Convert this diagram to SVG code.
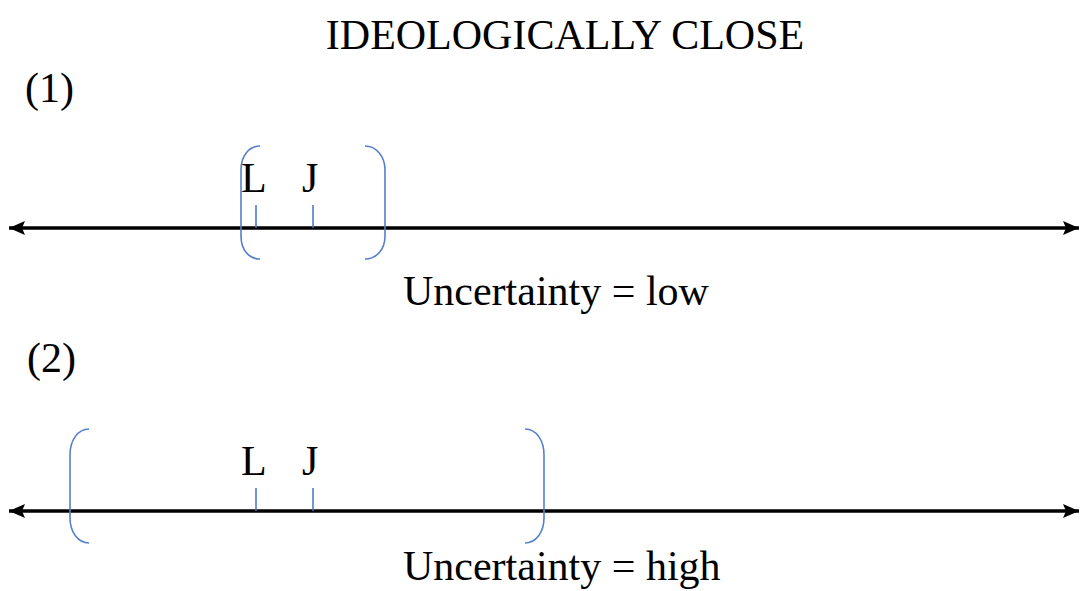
<svg xmlns="http://www.w3.org/2000/svg" width="1081" height="591" viewBox="0 0 1081 591">
<style>
.t{font-family:"Liberation Serif","Times New Roman",serif;font-size:42px;fill:#000}
.axis{stroke:#000;stroke-width:3.5;fill:none}
.br{stroke:#5580CC;stroke-width:1.6;fill:none}
.tick{stroke:#4472C4;stroke-width:1.5}
</style>
<defs>
<marker id="ah" viewBox="0 0 16 14" refX="16" refY="7" markerWidth="16" markerHeight="14" markerUnits="userSpaceOnUse" orient="auto-start-reverse">
<path d="M0,0 L16,7 L0,14 L3,7 z" fill="#000"/>
</marker>
</defs>
<rect width="1081" height="591" fill="#fff"/>
<text class="t" x="565" y="49" text-anchor="middle">IDEOLOGICALLY CLOSE</text>
<text class="t" x="25" y="102">(1)</text>
<text class="t" x="27" y="372">(2)</text>
<g id="connectors">
<line class="axis" x1="9" y1="228" x2="1079" y2="228" marker-start="url(#ah)" marker-end="url(#ah)"/>
<line class="axis" x1="9" y1="511" x2="1079" y2="511" marker-start="url(#ah)" marker-end="url(#ah)"/>
</g>
<g id="panel1">
<path class="br" d="M260,146 C249,146 241,156 241,170 L241,236 C241,250 249,259 260,259"/>
<path class="br" d="M365,146 C376,146 385,156 385,170 L385,236 C385,250 376,259 365,259"/>
<line class="tick" x1="256" y1="205" x2="256" y2="228"/>
<line class="tick" x1="313" y1="205" x2="313" y2="228"/>
<text class="t" x="241" y="192">L</text>
<text class="t" x="302" y="192">J</text>
<text class="t" x="403" y="305">Uncertainty = low</text>
</g>
<g id="panel2">
<path class="br" d="M89,429 C78,429 70,440 70,455 L70,518 C70,532 78,543 89,543"/>
<path class="br" d="M525,429 C536,429 544,440 544,455 L544,518 C544,532 536,543 525,543"/>
<line class="tick" x1="256" y1="488" x2="256" y2="511"/>
<line class="tick" x1="313" y1="488" x2="313" y2="511"/>
<text class="t" x="241" y="475">L</text>
<text class="t" x="302" y="475">J</text>
<text class="t" x="403" y="580">Uncertainty = high</text>
</g>
</svg>
